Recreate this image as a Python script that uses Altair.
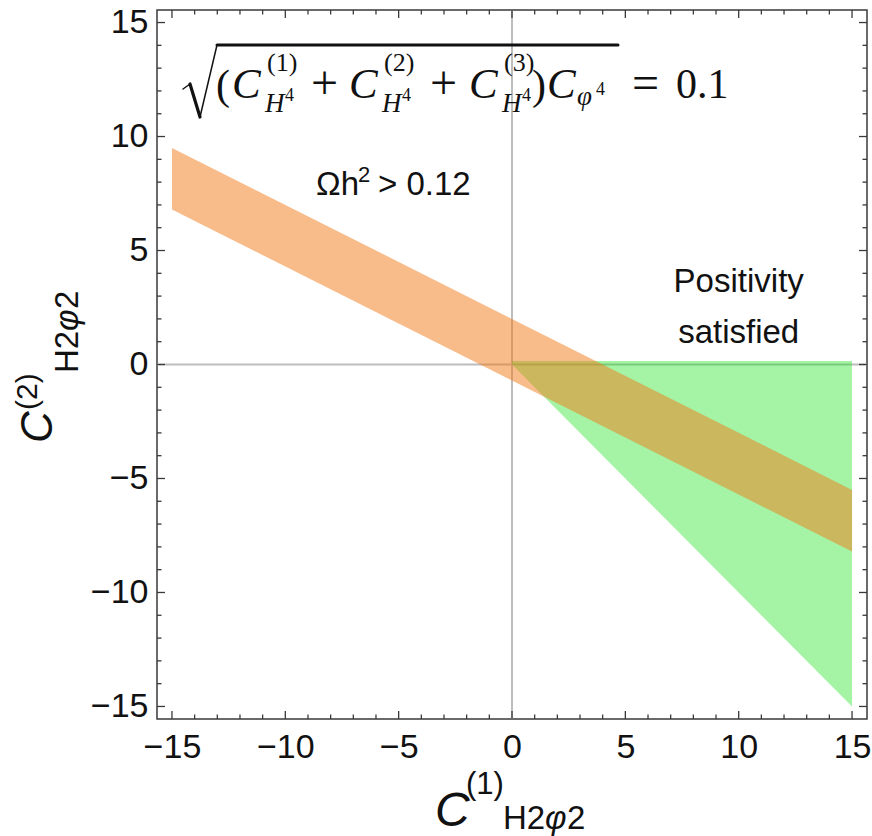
import altair as alt
import pandas as pd

# ---------------- data ----------------
band_x = [-15, 15]          # relic-density band (Omega h^2 > 0.12)
band_low = [6.8, -8.2]
band_high = [9.5, -5.5]

pos_x = [0, 15]             # positivity-satisfied triangle
pos_low = [0.0, -15.0]
pos_high = [0.15, 0.15]

major_ticks = [-15, -10, -5, 0, 5, 10, 15]
minor_ticks = [-14, -13, -12, -11, -9, -8, -7, -6, -4, -3, -2, -1,
               1, 2, 3, 4, 6, 7, 8, 9, 11, 12, 13, 14]

note_pos = ["Positivity", "satisfied"]

# ---------------- layout ----------------
W, H = 710, 709
LEFT, TOP = 157, 10
XD = [-15.66, 15.66]
YD = [-15.55, 15.55]
SANS = "Liberation Sans"
SERIF = "Liberation Serif"
FRAME = "#3a3a3a"
INK = "#111111"

xs = alt.Scale(domain=XD, nice=False, zero=False)
ys = alt.Scale(domain=YD, nice=False, zero=False)
xax = alt.Axis(values=major_ticks, ticks=False, tickSize=0, domain=False, grid=False,
               labelFont=SANS, labelFontSize=34, labelColor=INK, labelPadding=11,
               title=None, labelFlush=False, labelOverlap=False)
yax = alt.Axis(values=major_ticks, ticks=False, tickSize=0, domain=False, grid=False,
               labelFont=SANS, labelFontSize=34, labelColor=INK, labelPadding=9,
               title=None, labelFlush=False, labelOverlap=False)


def X(f):
    return alt.X(f, type="quantitative", scale=xs, axis=xax)


def Y(f):
    return alt.Y(f, type="quantitative", scale=ys, axis=yax)


one = pd.DataFrame({"a": [0]})

# gridlines at zero
grid_v = alt.Chart(pd.DataFrame({"v": [0]})).mark_rule(color="#bdbdbd", strokeWidth=2).encode(x=X("v"))
grid_h = alt.Chart(pd.DataFrame({"v": [0]})).mark_rule(color="#bdbdbd", strokeWidth=2).encode(y=Y("v"))

green = alt.Chart(pd.DataFrame({"x": pos_x, "lo": pos_low, "hi": pos_high})).mark_area(
    color="#12e312", opacity=0.38).encode(x=X("x"), y=Y("lo"), y2="hi:Q")

orange = alt.Chart(pd.DataFrame({"x": band_x, "lo": band_low, "hi": band_high})).mark_area(
    color="#f27a18", opacity=0.5).encode(x=X("x"), y=Y("lo"), y2="hi:Q")


def ticks(vals, length):
    df = pd.DataFrame({"v": vals})
    base = alt.Chart(df).mark_rule(color=FRAME, strokeWidth=1.3)
    return [
        base.encode(x=X("v"), y=alt.value(H), y2=alt.value(H - length)),
        base.encode(x=X("v"), y=alt.value(0), y2=alt.value(length)),
        base.encode(y=Y("v"), x=alt.value(0), x2=alt.value(length)),
        base.encode(y=Y("v"), x=alt.value(W), x2=alt.value(W - length)),
    ]


tick_layers = ticks(major_ticks, 8) + ticks(minor_ticks, 4.5)

# annotation placed in data coordinates
posit = alt.Chart(pd.DataFrame({"t": note_pos, "x": [10.0, 10.0], "y": [3.2, 0.95]})).mark_text(
    font=SANS, fontSize=33, align="center", baseline="alphabetic", color=INK).encode(
    x=X("x"), y=Y("y"), text="t:N")


# text pieces placed in pixels (canvas coordinates)
def piece(t, cx, cy, size, font, italic=False, angle=0):
    kw = dict(font=font, fontSize=size, align="left", baseline="alphabetic", color=INK)
    if italic:
        kw["fontStyle"] = "italic"
    if angle:
        kw["angle"] = angle
    return alt.Chart(one).mark_text(**kw).encode(
        text=alt.value(t), x=alt.value(cx - LEFT), y=alt.value(cy - TOP))


def seg(x1, y1, x2, y2, w):
    return alt.Chart(one).mark_rule(color=INK, strokeWidth=w, strokeCap="round").encode(
        x=alt.value(x1 - LEFT), y=alt.value(y1 - TOP), x2=alt.value(x2 - LEFT), y2=alt.value(y2 - TOP))


omega = [
    piece("Ωh", 316, 195, 33, SANS),
    piece("2", 358, 182, 22, SANS),
    piece("> 0.12", 378, 195, 33, SANS),
]

formula = [
    seg(183, 89, 190, 84, 1.5),
    seg(190, 84, 200, 117, 3.2),
    seg(200, 117, 217, 45, 1.5),
    seg(217, 45, 618, 45, 3),
    piece("(", 216, 99, 42, SERIF),
]
for bx, n in [(232, "(1)"), (349, "(2)"), (469, "(3)")]:
    formula += [
        piece("C", bx, 98, 43, SERIF, italic=True),
        piece(n, bx + 35, 71, 26, SERIF),
        piece("H", bx + 33, 112, 27, SERIF, italic=True),
        piece("4", bx + 53, 101, 18, SERIF),
    ]
formula += [
    piece("+", 311, 99, 48, SERIF),
    piece("+", 430, 99, 48, SERIF),
    piece(")", 532, 99, 42, SERIF),
    piece("C", 547, 98, 43, SERIF, italic=True),
    piece("φ", 577, 105, 27, SERIF, italic=True),
    piece("4", 596, 95, 18, SERIF),
    piece("=", 632, 99, 48, SERIF),
    piece("0.1", 676, 98, 42, SERIF),
]

xtitle = [
    piece("C", 435, 826, 48, SANS, italic=True),
    piece("(1)", 466, 794, 31, SANS),
    piece("H2", 503, 829, 33, SANS),
    piece("φ", 545, 829, 33, SANS, italic=True),
    piece("2", 567, 829, 33, SANS),
]
ytitle = [
    piece("C", 52, 443, 44, SANS, italic=True, angle=270),
    piece("(2)", 37, 410, 30, SANS, angle=270),
    piece("H2", 78, 373, 33, SANS, angle=270),
    piece("φ", 78, 331, 33, SANS, italic=True, angle=270),
    piece("2", 78, 309, 33, SANS, angle=270),
]

chart = alt.layer(
    grid_v, grid_h, green, orange, *tick_layers, posit, *omega, *formula, *xtitle, *ytitle
).properties(
    width=W, height=H,
    autosize=alt.AutoSizeParams(type="none"),
    padding={"left": LEFT, "top": TOP, "right": 872 - LEFT - W, "bottom": 836 - TOP - H},
    background="white",
).configure_view(stroke=FRAME, strokeWidth=1.5)

chart.save("out.html", embed_options={"renderer": "svg", "actions": False})
